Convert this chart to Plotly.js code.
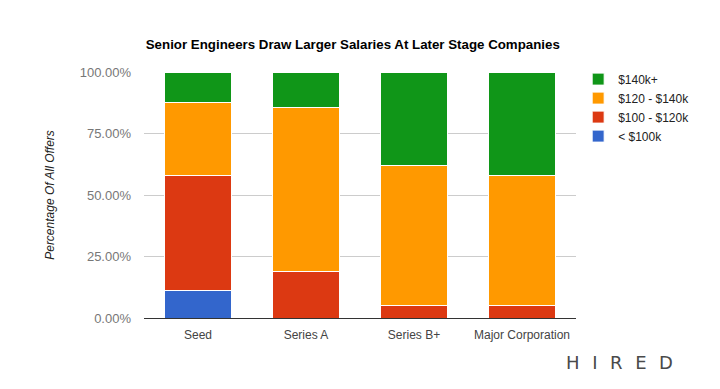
<!DOCTYPE html>
<html>
<head>
<meta charset="utf-8">
<script src="https://cdn.plot.ly/plotly-3.0.1.min.js"></script>
<style>
html, body { margin: 0; padding: 0; background: #fff; }
#chart { width: 720px; height: 389px; }
</style>
</head>
<body>
<div id="chart"></div>
<script>
var categories = ["Seed", "Series A", "Series B+", "Major Corporation"];
var seriesNames = ["< $100k", "$100 - $120k", "$120 - $140k", "$140k+"];
var under100 = [0.110, 0.000, 0.000, 0.000];
var from100to120 = [0.470, 0.190, 0.052, 0.052];
var from120to140 = [0.298, 0.666, 0.566, 0.526];
var over140 = [0.122, 0.144, 0.382, 0.422];
var colors = ["#3366cc", "#dc3912", "#ff9900", "#109618"];
var yTickVals = [0, 0.25, 0.5, 0.75, 1.0];

var seriesValues = [under100, from100to120, from120to140, over140];
var traces = seriesValues.map(function (vals, i) {
  return {
    type: "bar",
    name: seriesNames[i],
    x: categories,
    y: vals,
    marker: { color: colors[i], line: { color: "#ffffff", width: 1 } },
    hoverinfo: "skip"
  };
});

var layout = {
  width: 720,
  height: 389,
  margin: { l: 144, r: 144, t: 72, b: 71, pad: 0 },
  paper_bgcolor: "#ffffff",
  plot_bgcolor: "#ffffff",
  barmode: "stack",
  bargap: 0.38,
  font: { family: "Liberation Sans, Arial, sans-serif", size: 12, color: "#444444" },
  title: {
    text: "<b>Senior Engineers Draw Larger Salaries At Later Stage Companies</b>",
    font: { family: "Liberation Sans, Arial, sans-serif", size: 13.3, color: "#000000" },
    x: 0.49, xanchor: "center", y: 0.885, yanchor: "middle"
  },
  xaxis: {
    type: "category",
    showgrid: false,
    showline: true,
    linecolor: "#333333",
    linewidth: 1,
    ticks: "",
    ticklabelstandoff: 6,
    tickfont: { size: 12, color: "#444444" },
    fixedrange: true
  },
  yaxis: {
    range: [0, 1.0],
    tickvals: yTickVals,
    tickformat: ".2%",
    showgrid: true,
    gridcolor: "#cccccc",
    gridwidth: 1,
    zeroline: false,
    showline: false,
    ticks: "",
    ticklabelstandoff: 12,
    tickfont: { size: 13, color: "#777777" },
    title: {
      text: "<i>Percentage Of All Offers</i>",
      font: { size: 12, color: "#222222" },
      standoff: 22
    },
    fixedrange: true
  },
  legend: {
    x: 1.005, xanchor: "left",
    y: 1.03, yanchor: "top",
    traceorder: "reversed",
    font: { size: 12, color: "#222222" },
    itemwidth: 30,
    tracegroupgap: 0,
    bgcolor: "rgba(0,0,0,0)"
  },
  annotations: [{
    xref: "paper", yref: "paper",
    x: 1.23, y: -0.18,
    xanchor: "right", yanchor: "middle",
    text: "H\u2002\u2009I\u2002\u2009R\u2002\u2009E\u2002\u2009D",
    showarrow: false,
    font: { family: "DejaVu Sans, sans-serif", size: 18, color: "#4a4a4a" }
  }],
  showlegend: true
};

Plotly.newPlot("chart", traces, layout, { displayModeBar: false, staticPlot: true });
</script>
</body>
</html>
